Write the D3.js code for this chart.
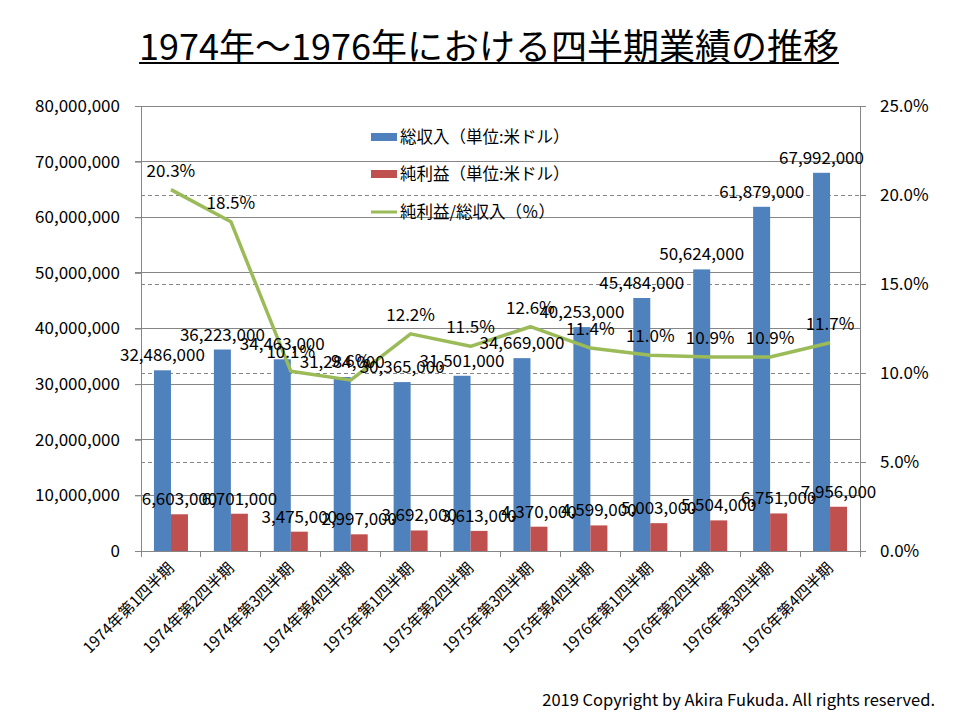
<!DOCTYPE html>
<html><head><meta charset="utf-8">
<script src="https://cdn.jsdelivr.net/npm/d3@7"></script>
<style>body{margin:0;background:#fff;}svg{display:block;}</style>
</head><body>
<svg id="c" width="960" height="720"></svg>
<script>
const categories = ["1974年第1四半期","1974年第2四半期","1974年第3四半期","1974年第4四半期","1975年第1四半期","1975年第2四半期","1975年第3四半期","1975年第4四半期","1976年第1四半期","1976年第2四半期","1976年第3四半期","1976年第4四半期"];
const revenue = [32486000,36223000,34463000,31284000,30365000,31501000,34669000,40253000,45484000,50624000,61879000,67992000];
const profit = [6603000,6701000,3475000,2997000,3692000,3613000,4370000,4599000,5003000,5504000,6751000,7956000];
const ratio = [20.3,18.5,10.1,9.6,12.2,11.5,12.6,11.4,11.0,10.9,10.9,11.7];
const leftTicks = [0,10000000,20000000,30000000,40000000,50000000,60000000,70000000,80000000];
const rightTicks = [0,5,10,15,20,25];
const seriesNames = ["総収入（単位:米ドル）","純利益（単位:米ドル）","純利益/総収入（％）"];
const titleText = "1974年～1976年における四半期業績の推移";
const copyright = "2019 Copyright by Akira Fukuda. All rights reserved.";

const font = "'Noto Sans CJK JP','Noto Sans',sans-serif";
const colors = {rev:"#4F81BD", prof:"#C0504D", line:"#9BBB59", axis:"#868686"};
const svg = d3.select("#c");
const L = 141, R = 860, T = 106, B = 551;

const x = d3.scaleBand().domain(categories).range([L, R]).paddingInner(0).paddingOuter(0);
const yL = d3.scaleLinear().domain([0, 80000000]).range([B, T]);
const yR = d3.scaleLinear().domain([0, 25]).range([B, T]);
const bw = 17;
const fmt = d3.format(",");

// title
const title = svg.append("text").attr("x", 489).attr("y", 60).attr("text-anchor","middle")
  .attr("font-family", font).attr("font-size", 36).attr("fill","#000").text(titleText);
const tb = title.node().getBBox();
svg.append("rect").attr("x", tb.x).attr("y", 62).attr("width", tb.width).attr("height", 2).attr("fill","#000");

// gridlines solid (left)
svg.append("g").selectAll("line").data(leftTicks.slice(1)).join("line")
  .attr("x1", L-6).attr("x2", R).attr("y1", d=>yL(d)).attr("y2", d=>yL(d))
  .attr("stroke", colors.axis).attr("stroke-width", 1).attr("shape-rendering","crispEdges");
// dashed gridlines (right)
svg.append("g").selectAll("line").data(rightTicks.filter(d=>d>0 && d<25)).join("line")
  .attr("x1", L).attr("x2", R+6).attr("y1", d=>yR(d)).attr("y2", d=>yR(d))
  .attr("stroke", colors.axis).attr("stroke-width", 1).attr("stroke-dasharray","4,3").attr("shape-rendering","crispEdges");

// left axis
const gl = svg.append("g").attr("transform",`translate(${L},0)`)
  .call(d3.axisLeft(yL).tickValues(leftTicks).tickFormat(fmt).tickSize(6).tickPadding(15));
gl.select(".domain").attr("stroke", colors.axis);
gl.selectAll(".tick line").attr("stroke", colors.axis);
gl.selectAll("text").attr("font-family", font).attr("font-size", 17).attr("fill","#000");

// right axis
const gr = svg.append("g").attr("transform",`translate(${R},0)`)
  .call(d3.axisRight(yR).tickValues(rightTicks).tickFormat(d=>d.toFixed(1)+"%").tickSize(6).tickPadding(14));
gr.select(".domain").attr("stroke", colors.axis);
gr.selectAll(".tick line").attr("stroke", colors.axis);
gr.selectAll("text").attr("font-family", font).attr("font-size", 17).attr("fill","#000");

// bars
svg.append("g").selectAll("rect").data(revenue).join("rect")
  .attr("x", (d,i)=>x(categories[i]) + x.bandwidth()/2 - bw).attr("width", bw)
  .attr("y", d=>yL(d)).attr("height", d=>B - yL(d)).attr("fill", colors.rev);
svg.append("g").selectAll("rect").data(profit).join("rect")
  .attr("x", (d,i)=>x(categories[i]) + x.bandwidth()/2).attr("width", bw)
  .attr("y", d=>yL(d)).attr("height", d=>B - yL(d)).attr("fill", colors.prof);

// bottom axis
const gb = svg.append("g").attr("transform",`translate(0,${B})`);
gb.append("line").attr("x1", L).attr("x2", R).attr("stroke", colors.axis).attr("shape-rendering","crispEdges");
gb.selectAll("line.t").data(d3.range(categories.length+1)).join("line").attr("class","t")
  .attr("x1", i=>L + i*x.bandwidth()).attr("x2", i=>L + i*x.bandwidth()).attr("y1",0).attr("y2",6)
  .attr("stroke", colors.axis).attr("shape-rendering","crispEdges");
gb.selectAll("text").data(categories).join("text")
  .attr("transform", d=>`translate(${x(d)+x.bandwidth()/2+4},${18}) rotate(-45)`)
  .attr("text-anchor","end").attr("font-family", font).attr("font-size", 15.5).attr("fill","#000").text(d=>d);

// line
const line = d3.line().x((d,i)=>x(categories[i]) + x.bandwidth()/2).y(d=>yR(d));
svg.append("path").datum(ratio).attr("d", line).attr("fill","none")
  .attr("stroke", colors.line).attr("stroke-width", 3.5).attr("stroke-linejoin","round");

// labels
const lab = svg.append("g").attr("font-family", font).attr("font-size", 17).attr("fill","#000").attr("text-anchor","middle");
lab.selectAll("text.r").data(revenue).join("text").attr("class","r")
  .attr("x",(d,i)=>x(categories[i]) + x.bandwidth()/2 - bw/2).attr("y", d=>yL(d)-9).text(d=>fmt(d));
lab.selectAll("text.p").data(profit).join("text").attr("class","p")
  .attr("x",(d,i)=>x(categories[i]) + x.bandwidth()/2 + bw/2).attr("y", d=>yL(d)-9).text(d=>fmt(d));
lab.selectAll("text.l").data(ratio).join("text").attr("class","l")
  .attr("x",(d,i)=>x(categories[i]) + x.bandwidth()/2).attr("y", d=>yR(d)-13).text(d=>d.toFixed(1)+"%");

// legend
const lg = svg.append("g").attr("font-family", font).attr("font-size", 16.5);
const rows = [137, 174, 212];
lg.append("rect").attr("x",371).attr("y",rows[0]-4).attr("width",26).attr("height",8).attr("fill",colors.rev);
lg.append("rect").attr("x",371).attr("y",rows[1]-4).attr("width",26).attr("height",8).attr("fill",colors.prof);
lg.append("line").attr("x1",371).attr("x2",397).attr("y1",rows[2]).attr("y2",rows[2]).attr("stroke",colors.line).attr("stroke-width",3);
lg.selectAll("text").data(seriesNames).join("text").attr("x",400).attr("y",(d,i)=>rows[i]+6).attr("fill","#000").text(d=>d);

// copyright
svg.append("text").attr("x", 935).attr("y", 706).attr("text-anchor","end").attr("font-family", font)
  .attr("font-size", 16.5).attr("fill","#000").text(copyright);
</script>
</body></html>
